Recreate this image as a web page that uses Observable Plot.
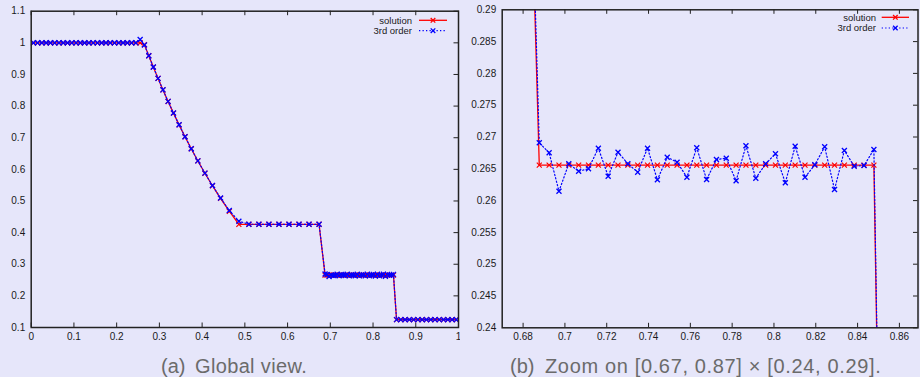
<!DOCTYPE html>
<html>
<head>
<meta charset="utf-8">
<script src="https://cdn.jsdelivr.net/npm/d3@7"></script>
<script src="https://cdn.jsdelivr.net/npm/@observablehq/plot@0.6"></script>
<style>
  html, body { margin: 0; padding: 0; background: #e6e6fa; }
  #fig { position: relative; width: 920px; height: 377px; overflow: hidden; background: #e6e6fa;
         font-family: "Liberation Sans", Arial, Helvetica, sans-serif; }
  #fig > svg { position: absolute; top: 0; }
</style>
</head>
<body>
<div id="fig"></div>
<script>
// Sod shock tube, density at t = 0.2 on a Lagrangian mesh of 100 cells (cell centres).
const cellX = [
  0.005, 0.015, 0.025, 0.035, 0.045, 0.055, 0.065, 0.075, 0.085, 0.095,
  0.105, 0.115, 0.125, 0.135, 0.145, 0.155, 0.165, 0.175, 0.185, 0.195,
  0.205, 0.215, 0.225, 0.235, 0.245, 0.255,
  0.26496, 0.27520, 0.28583, 0.29687, 0.30838, 0.32039, 0.33295, 0.34612,
  0.35998, 0.37460, 0.39009, 0.40656, 0.42418, 0.44311, 0.46362, 0.48601,
  0.50947, 0.53293, 0.55638, 0.57984, 0.60330, 0.62676, 0.65021, 0.67367,
  0.68774, 0.69245, 0.69716, 0.70186, 0.70657, 0.71128, 0.71599, 0.72069,
  0.72540, 0.73011, 0.73482, 0.73952, 0.74423, 0.74894, 0.75365, 0.75836,
  0.76306, 0.76777, 0.77248, 0.77719, 0.78189, 0.78660, 0.79131, 0.79602,
  0.80072, 0.80543, 0.81014, 0.81485, 0.81955, 0.82426, 0.82897, 0.83368,
  0.83838, 0.84309, 0.84780,
  0.855, 0.865, 0.875, 0.885, 0.895, 0.905, 0.915, 0.925, 0.935, 0.945,
  0.955, 0.965, 0.975, 0.985, 0.995
];

// exact solution
const solution = [
  1, 1, 1, 1, 1, 1, 1, 1, 1, 1,
  1, 1, 1, 1, 1, 1, 1, 1, 1, 1,
  1, 1, 1, 1, 1, 1,
  0.99436, 0.95898, 0.92334, 0.88742, 0.85120, 0.81466, 0.77778, 0.74060,
  0.70302, 0.66503, 0.62660, 0.58768, 0.54823, 0.50823, 0.46759, 0.42621,
  0.4263, 0.4263, 0.4263, 0.4263, 0.4263, 0.4263, 0.4263, 0.4263,
  0.26557, 0.26557, 0.26557, 0.26557, 0.26557, 0.26557, 0.26557, 0.26557,
  0.26557, 0.26557, 0.26557, 0.26557, 0.26557, 0.26557, 0.26557, 0.26557,
  0.26557, 0.26557, 0.26557, 0.26557, 0.26557, 0.26557, 0.26557, 0.26557,
  0.26557, 0.26557, 0.26557, 0.26557, 0.26557, 0.26557, 0.26557, 0.26557,
  0.26557, 0.26557, 0.26557,
  0.125, 0.125, 0.125, 0.125, 0.125, 0.125, 0.125, 0.125, 0.125, 0.125,
  0.125, 0.125, 0.125, 0.125, 0.125
];

// third-order scheme
const thirdOrder = [
  1, 1, 1, 1, 1, 1, 1, 1, 1, 1,
  1, 1, 1, 1, 1, 1, 1, 1, 1, 1,
  1, 1, 1, 1, 1, 1.0104,
  0.9930, 0.9590, 0.9235, 0.8876, 0.8514, 0.8148, 0.7780, 0.7408,
  0.7032, 0.6652, 0.6268, 0.5880, 0.5488, 0.5092, 0.4700, 0.4360,
  0.4265, 0.4263, 0.4263, 0.4263, 0.4263, 0.4263, 0.4263, 0.4263,
  0.26909, 0.26752, 0.26148, 0.26579, 0.26462, 0.26500, 0.26824, 0.26384,
  0.26761, 0.26579, 0.26447, 0.26824, 0.26327, 0.26682, 0.26604, 0.26368,
  0.26830, 0.26332, 0.26646, 0.26667, 0.26311, 0.26862, 0.26352, 0.26579,
  0.26736, 0.26280, 0.26855, 0.26368, 0.26563, 0.26846, 0.26174, 0.26788,
  0.26541, 0.26552, 0.26803,
  0.125, 0.125, 0.125, 0.125, 0.125, 0.125, 0.125, 0.125, 0.125, 0.125,
  0.125, 0.125, 0.125, 0.125, 0.125
];

// axis ticks
const globalXTicks  = [0, 0.1, 0.2, 0.3, 0.4, 0.5, 0.6, 0.7, 0.8, 0.9, 1];
const globalXLabels = ["0", "0.1", "0.2", "0.3", "0.4", "0.5", "0.6", "0.7", "0.8", "0.9", "1"];
const globalYTicks  = [0.1, 0.2, 0.3, 0.4, 0.5, 0.6, 0.7, 0.8, 0.9, 1, 1.1];
const globalYLabels = ["0.1", "0.2", "0.3", "0.4", "0.5", "0.6", "0.7", "0.8", "0.9", "1", "1.1"];
const zoomXTicks  = [0.68, 0.70, 0.72, 0.74, 0.76, 0.78, 0.80, 0.82, 0.84, 0.86];
const zoomXLabels = ["0.68", "0.7", "0.72", "0.74", "0.76", "0.78", "0.8", "0.82", "0.84", "0.86"];
const zoomYTicks  = [0.24, 0.245, 0.25, 0.255, 0.26, 0.265, 0.27, 0.275, 0.28, 0.285, 0.29];
const zoomYLabels = ["0.24", "0.245", "0.25", "0.255", "0.26", "0.265", "0.27", "0.275", "0.28", "0.285", "0.29"];

const seriesNames = ["solution", "3rd order"];
const captions = [
  {tag: "(a)", text: "Global view."},
  {tag: "(b)", text: "Zoom on [0.67, 0.87] \u00d7 [0.24, 0.29]."}
];

const rows = cellX.map((x, i) => ({x, sol: solution[i], num: thirdOrder[i]}));

const RED = "#ff0000", BLUE = "#0000ff", INK = "#1a1a1a";

function panel(o) {
  const innerH = o.height - o.mt - o.mb;
  const innerW = o.width - o.ml - o.mr;
  const lab = (ticks, labels) => d => labels[ticks.indexOf(d)];
  const svg = Plot.plot({
    width: o.width, height: o.height,
    marginLeft: o.ml, marginRight: o.mr, marginTop: o.mt, marginBottom: o.mb,
    style: {background: "transparent", fontFamily: "'Liberation Sans', Arial, sans-serif", fontSize: "10px", color: INK},
    x: {domain: o.xDomain},
    y: {domain: o.yDomain},
    marks: [
      Plot.axisX({ticks: o.xTicks, tickFormat: lab(o.xTicks, o.xLabels), tickSize: 0, tickPadding: 5, label: null, fill: INK}),
      Plot.axisY({ticks: o.yTicks, tickFormat: lab(o.yTicks, o.yLabels), tickSize: 0, tickPadding: 6, label: null, fill: INK}),
      // inward ticks on bottom, top and right edges
      Plot.tickX(o.xTicks, {x: d => d, insetTop: innerH - 4.5, stroke: "#222"}),
      Plot.tickX(o.xTicks, {x: d => d, insetBottom: innerH - 4.5, stroke: "#222"}),
      Plot.tickY(o.yTicks, {y: d => d, insetLeft: innerW - 4.5, stroke: "#222"}),
      Plot.line(rows, {x: "x", y: "sol", stroke: RED, strokeWidth: 1.3, clip: true}),
      Plot.dot(rows, {x: "x", y: "sol", symbol: "times", r: 2.4, stroke: RED, strokeWidth: 1.2, clip: true}),
      Plot.line(rows, {x: "x", y: "num", stroke: BLUE, strokeWidth: 1.2, strokeDasharray: "1.3,2.2", clip: true}),
      Plot.dot(rows, {x: "x", y: "num", symbol: "times", r: 2.4, stroke: BLUE, strokeWidth: 1.3, clip: true}),
      Plot.frame({stroke: "#222", strokeWidth: 1.5})
    ]
  });
  svg.style.left = o.left + "px";

  // key in the upper right corner
  const g = d3.select(svg).append("g")
    .attr("font-family", "'Liberation Sans', Arial, sans-serif")
    .attr("font-size", 9.5).attr("fill", INK);
  const styles = [{stroke: RED, dash: null, w: 1.3}, {stroke: BLUE, dash: "1.3,2.2", w: 1.2}];
  seriesNames.forEach((name, i) => {
    const y = o.keyY[i];
    g.append("text").attr("x", o.keyText).attr("y", y).attr("dy", "0.35em")
      .attr("text-anchor", "end").text(name);
    g.append("line").attr("x1", o.keyLine[0]).attr("x2", o.keyLine[1]).attr("y1", y).attr("y2", y)
      .attr("stroke", styles[i].stroke).attr("stroke-width", styles[i].w)
      .attr("stroke-dasharray", styles[i].dash);
    const cx = (o.keyLine[0] + o.keyLine[1]) / 2, s = 2.3;
    g.append("path").attr("d", `M${cx - s},${y - s}L${cx + s},${y + s}M${cx - s},${y + s}L${cx + s},${y - s}`)
      .attr("stroke", styles[i].stroke).attr("stroke-width", 1.3).attr("fill", "none");
  });
  return svg;
}

const fig = document.getElementById("fig");

fig.appendChild(panel({
  left: 0, width: 460, height: 352, ml: 30.7, mr: 2, mt: 10.7, mb: 25,
  xDomain: [0, 1], yDomain: [0.1, 1.1],
  xTicks: globalXTicks, xLabels: globalXLabels, yTicks: globalYTicks, yLabels: globalYLabels,
  keyText: 412, keyLine: [419, 447], keyY: [20.3, 30.7]
}));

fig.appendChild(panel({
  left: 460, width: 460, height: 352, ml: 41.7, mr: 2.5, mt: 9.3, mb: 24.7,
  xDomain: [0.67, 0.8689], yDomain: [0.24, 0.29],
  xTicks: zoomXTicks, xLabels: zoomXLabels, yTicks: zoomYTicks, yLabels: zoomYLabels,
  keyText: 416, keyLine: [421.7, 449], keyY: [17.3, 28]
}));

// sub-figure captions
const cap = d3.select(fig).append("svg")
  .attr("width", 920).attr("height", 377).style("left", "0px")
  .attr("font-family", "'Liberation Sans', Arial, sans-serif")
  .attr("font-size", 20).attr("fill", "#6b6b6b");
const capPos = [
  {tagX: 161, textX: 195, textW: 111.7},
  {tagX: 510, textX: 545, textW: 335.7}
];
captions.forEach((c, i) => {
  const p = capPos[i];
  cap.append("text").attr("x", p.tagX).attr("y", 372.5).text(c.tag);
  cap.append("text").attr("x", p.textX).attr("y", 372.5)
    .attr("textLength", p.textW).attr("lengthAdjust", "spacing").text(c.text);
});
</script>
</body>
</html>
